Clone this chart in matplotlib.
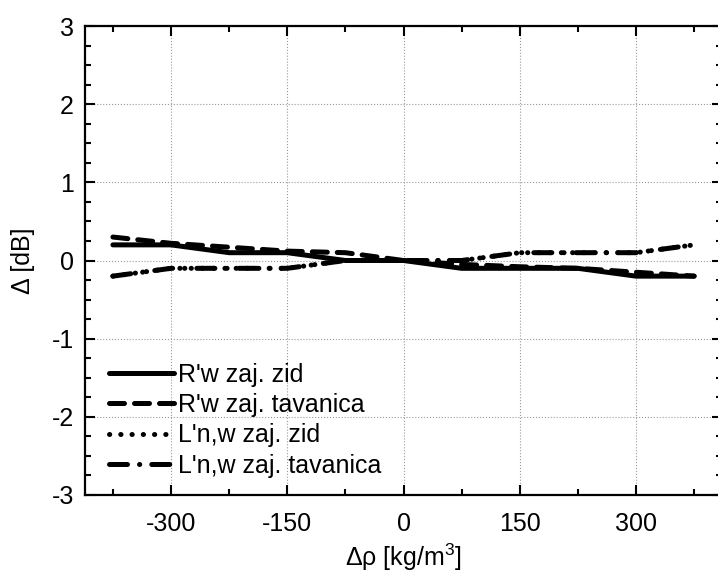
import matplotlib
matplotlib.use("Agg")
import matplotlib.pyplot as plt
from matplotlib.ticker import MultipleLocator

plt.rcParams['font.family'] = ['Liberation Sans', 'DejaVu Sans']
plt.rcParams['mathtext.fontset'] = 'custom'
plt.rcParams['mathtext.rm'] = 'Liberation Sans'
plt.rcParams['axes.unicode_minus'] = False

# podaci ocitani sa slike
drho = [-375, -300, -225, -150, -75, 0, 75, 150, 225, 300, 375]
rw_zid = [0.2, 0.2, 0.1, 0.1, 0.0, 0.0, -0.1, -0.1, -0.1, -0.2, -0.2]
rw_tav = [0.3, 0.22, 0.17, 0.12, 0.1, 0.0, -0.05, -0.08, -0.1, -0.15, -0.2]
ln_zid = [-0.2, -0.1, -0.1, -0.1, 0.0, 0.0, 0.0, 0.1, 0.1, 0.1, 0.2]
ln_tav = [-0.2, -0.1, -0.1, -0.1, 0.0, 0.0, 0.0, 0.1, 0.1, 0.1, 0.2]
labels = ["R'w zaj. zid", "R'w zaj. tavanica", "L'n,w zaj. zid", "L'n,w zaj. tavanica"]

fig = plt.figure(figsize=(7.18, 5.74), dpi=100)
ax = fig.add_axes([85 / 718, 79 / 574, 637 / 718, 469 / 574])

lw = 3.6
ax.plot(drho, rw_zid, color='black', lw=lw, ls='-', solid_capstyle='round', label=labels[0])
ax.plot(drho, rw_tav, color='black', lw=lw, ls=(0, (3, 2)), dash_capstyle='round', label=labels[1])
ax.plot(drho, ln_zid, color='black', lw=lw, ls=(0, (0.05, 2.2)), dash_capstyle='round', label=labels[2])
ax.plot(drho, ln_tav, color='black', lw=lw, ls=(0, (3.6, 2.4, 0.05, 2.4)), dash_capstyle='round', label=labels[3])

ax.set_xlim(-411, 411)
ax.set_ylim(-3, 3)
ax.xaxis.set_major_locator(MultipleLocator(150))
ax.xaxis.set_minor_locator(MultipleLocator(75))
ax.yaxis.set_major_locator(MultipleLocator(1))
ax.yaxis.set_minor_locator(MultipleLocator(0.25))

ax.grid(True, which='major', ls=':', color='#999999', lw=0.8)
ax.tick_params(which='both', direction='in', top=True, right=True, width=1.5, labelsize=18)
ax.tick_params(axis='x', pad=12)
ax.tick_params(axis='y', pad=8)
ax.tick_params(which='major', length=7)
ax.tick_params(which='minor', length=4)
for s in ax.spines.values():
    s.set_linewidth(1.6)

ax.set_xlabel(r'Δρ [kg/m$^3$]', fontsize=18, labelpad=4)
ax.set_ylabel('Δ [dB]', fontsize=18, labelpad=12)

ax.legend(loc='lower left', frameon=False, fontsize=18, handlelength=2.6,
          handletextpad=0.15, labelspacing=0.25, borderaxespad=0.3,
          bbox_to_anchor=(0.01, 0.0))

fig.savefig('out.png', dpi=100)
